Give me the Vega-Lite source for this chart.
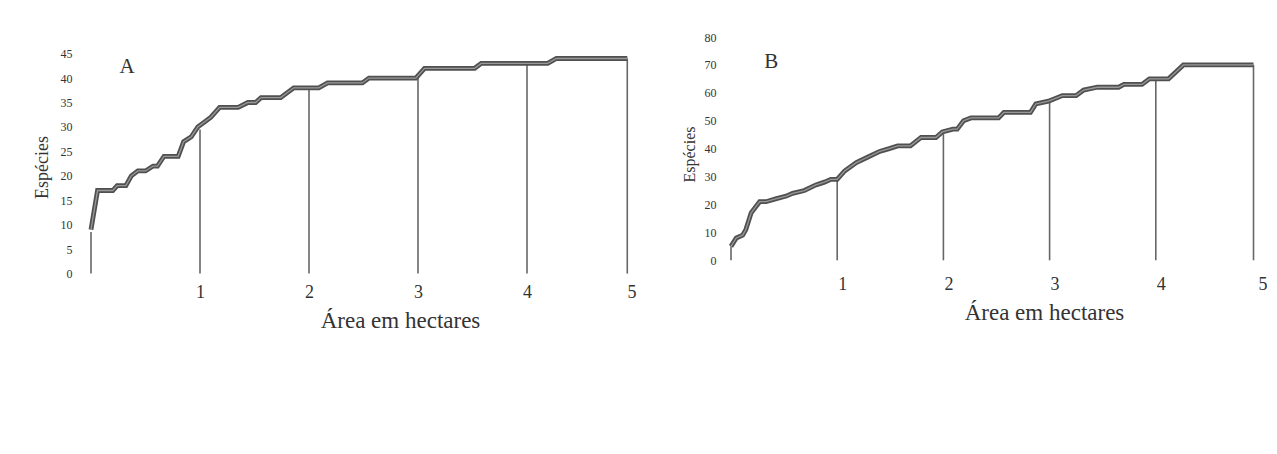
{
  "$schema": "https://vega.github.io/schema/vega-lite/v6.json",
  "background": "white",
  "padding": {"left": 33, "top": 31, "right": 0, "bottom": 0},
  "spacing": 44,
  "config": {"view": {"stroke": null}, "font": "Liberation Serif"},
  "datasets": {
    "curveA": [
      {"area": 0.00, "especies": 9}, {"area": 0.06, "especies": 17}, {"area": 0.20, "especies": 17},
      {"area": 0.24, "especies": 18}, {"area": 0.32, "especies": 18}, {"area": 0.37, "especies": 20},
      {"area": 0.43, "especies": 21}, {"area": 0.50, "especies": 21}, {"area": 0.57, "especies": 22},
      {"area": 0.61, "especies": 22}, {"area": 0.67, "especies": 24}, {"area": 0.80, "especies": 24},
      {"area": 0.85, "especies": 27}, {"area": 0.92, "especies": 28}, {"area": 0.98, "especies": 30},
      {"area": 1.04, "especies": 31}, {"area": 1.10, "especies": 32}, {"area": 1.18, "especies": 34},
      {"area": 1.35, "especies": 34}, {"area": 1.44, "especies": 35}, {"area": 1.51, "especies": 35},
      {"area": 1.56, "especies": 36}, {"area": 1.74, "especies": 36}, {"area": 1.86, "especies": 38},
      {"area": 2.09, "especies": 38}, {"area": 2.17, "especies": 39}, {"area": 2.49, "especies": 39},
      {"area": 2.55, "especies": 40}, {"area": 2.98, "especies": 40}, {"area": 3.06, "especies": 42},
      {"area": 3.52, "especies": 42}, {"area": 3.58, "especies": 43}, {"area": 4.19, "especies": 43},
      {"area": 4.27, "especies": 44}, {"area": 4.92, "especies": 44}
    ],
    "dropA": [
      {"area": 0, "especies": 8.5}, {"area": 1, "especies": 29.5}, {"area": 2, "especies": 38},
      {"area": 3, "especies": 40}, {"area": 4, "especies": 43}, {"area": 4.92, "especies": 44}
    ],
    "labelA": [{"area": 0.33, "especies": 42.2, "label": "A"}],
    "curveB": [
      {"area": 0.00, "especies": 5}, {"area": 0.05, "especies": 8}, {"area": 0.11, "especies": 9},
      {"area": 0.14, "especies": 11}, {"area": 0.19, "especies": 17}, {"area": 0.27, "especies": 21},
      {"area": 0.33, "especies": 21}, {"area": 0.42, "especies": 22}, {"area": 0.52, "especies": 23},
      {"area": 0.58, "especies": 24}, {"area": 0.69, "especies": 25}, {"area": 0.80, "especies": 27},
      {"area": 0.88, "especies": 28}, {"area": 0.94, "especies": 29}, {"area": 1.00, "especies": 29},
      {"area": 1.07, "especies": 32}, {"area": 1.18, "especies": 35}, {"area": 1.29, "especies": 37},
      {"area": 1.40, "especies": 39}, {"area": 1.49, "especies": 40}, {"area": 1.57, "especies": 41},
      {"area": 1.69, "especies": 41}, {"area": 1.79, "especies": 44}, {"area": 1.93, "especies": 44},
      {"area": 1.99, "especies": 46}, {"area": 2.09, "especies": 47}, {"area": 2.13, "especies": 47},
      {"area": 2.19, "especies": 50}, {"area": 2.26, "especies": 51}, {"area": 2.52, "especies": 51},
      {"area": 2.57, "especies": 53}, {"area": 2.82, "especies": 53}, {"area": 2.87, "especies": 56},
      {"area": 2.99, "especies": 57}, {"area": 3.12, "especies": 59}, {"area": 3.25, "especies": 59},
      {"area": 3.32, "especies": 61}, {"area": 3.45, "especies": 62}, {"area": 3.65, "especies": 62},
      {"area": 3.70, "especies": 63}, {"area": 3.87, "especies": 63}, {"area": 3.94, "especies": 65},
      {"area": 4.12, "especies": 65}, {"area": 4.26, "especies": 70}, {"area": 4.92, "especies": 70}
    ],
    "dropB": [
      {"area": 0, "especies": 5}, {"area": 1, "especies": 29}, {"area": 2, "especies": 46},
      {"area": 3, "especies": 57}, {"area": 4, "especies": 65}, {"area": 4.92, "especies": 70}
    ],
    "labelB": [{"area": 0.38, "especies": 71, "label": "B"}]
  },
  "hconcat": [
    {
      "width": 545,
      "height": 236.6,
      "encoding": {
        "x": {
          "field": "area", "type": "quantitative",
          "scale": {"domain": [0, 5], "nice": false, "zero": true},
          "axis": {
            "values": [1, 2, 3, 4, 5], "ticks": false, "domain": false, "grid": false,
            "labelFont": "Liberation Serif", "labelFontSize": 18, "labelPadding": 10, "labelColor": "#333",
            "title": "Área em hectares", "titleFont": "Liberation Serif", "titleFontSize": 23,
            "titleFontWeight": "normal", "titleColor": "#333", "titleX": 309, "titleY": 47,
            "titleBaseline": "middle", "titleAlign": "center"
          }
        },
        "y": {
          "field": "especies", "type": "quantitative",
          "scale": {"domain": [0, 48.4], "nice": false},
          "axis": {
            "values": [0, 5, 10, 15, 20, 25, 30, 35, 40, 45], "ticks": false, "domain": false, "grid": false,
            "labelFont": "Liberation Serif", "labelFontSize": 12, "labelPadding": 19, "labelColor": "#333",
            "title": "Espécies", "titleFont": "Liberation Serif", "titleFontSize": 18,
            "titleFontWeight": "normal", "titleColor": "#333", "titleX": -49, "titleY": 130,
            "titleBaseline": "middle", "titleAlign": "center"
          }
        }
      },
      "layer": [
        {
          "data": {"name": "dropA"},
          "mark": {"type": "rule", "color": "#666", "strokeWidth": 1.6},
          "encoding": {"y": {"datum": 0}, "y2": {"field": "especies"}}
        },
        {
          "data": {"name": "curveA"},
          "mark": {"type": "line", "color": "#505050", "strokeWidth": 4.8}
        },
        {
          "data": {"name": "curveA"},
          "mark": {"type": "line", "color": "#999", "strokeWidth": 1.3}
        },
        {
          "data": {"name": "labelA"},
          "mark": {"type": "text", "font": "Liberation Serif", "fontSize": 21, "color": "#333"},
          "encoding": {"text": {"field": "label"}}
        }
      ]
    },
    {
      "width": 531,
      "height": 223.3,
      "encoding": {
        "x": {
          "field": "area", "type": "quantitative",
          "scale": {"domain": [0, 5], "nice": false, "zero": true},
          "axis": {
            "values": [1, 2, 3, 4, 5], "ticks": false, "domain": false, "grid": false,
            "labelFont": "Liberation Serif", "labelFontSize": 18, "labelPadding": 15, "labelColor": "#333",
            "labelOffset": 5,
            "title": "Área em hectares", "titleFont": "Liberation Serif", "titleFontSize": 23,
            "titleFontWeight": "normal", "titleColor": "#333", "titleX": 313, "titleY": 52,
            "titleBaseline": "middle", "titleAlign": "center"
          }
        },
        "y": {
          "field": "especies", "type": "quantitative",
          "scale": {"domain": [0, 80], "nice": false},
          "axis": {
            "values": [0, 10, 20, 30, 40, 50, 60, 70, 80], "ticks": false, "domain": false, "grid": false,
            "labelFont": "Liberation Serif", "labelFontSize": 12, "labelPadding": 15, "labelColor": "#333",
            "title": "Espécies", "titleFont": "Liberation Serif", "titleFontSize": 16,
            "titleFontWeight": "normal", "titleColor": "#333", "titleX": -42, "titleY": 117,
            "titleBaseline": "middle", "titleAlign": "center"
          }
        }
      },
      "layer": [
        {
          "data": {"name": "dropB"},
          "mark": {"type": "rule", "color": "#666", "strokeWidth": 1.6},
          "encoding": {"y": {"datum": 0}, "y2": {"field": "especies"}}
        },
        {
          "data": {"name": "curveB"},
          "mark": {"type": "line", "color": "#505050", "strokeWidth": 4.8}
        },
        {
          "data": {"name": "curveB"},
          "mark": {"type": "line", "color": "#999", "strokeWidth": 1.3}
        },
        {
          "data": {"name": "labelB"},
          "mark": {"type": "text", "font": "Liberation Serif", "fontSize": 21, "color": "#333"},
          "encoding": {"text": {"field": "label"}}
        }
      ]
    }
  ]
}
